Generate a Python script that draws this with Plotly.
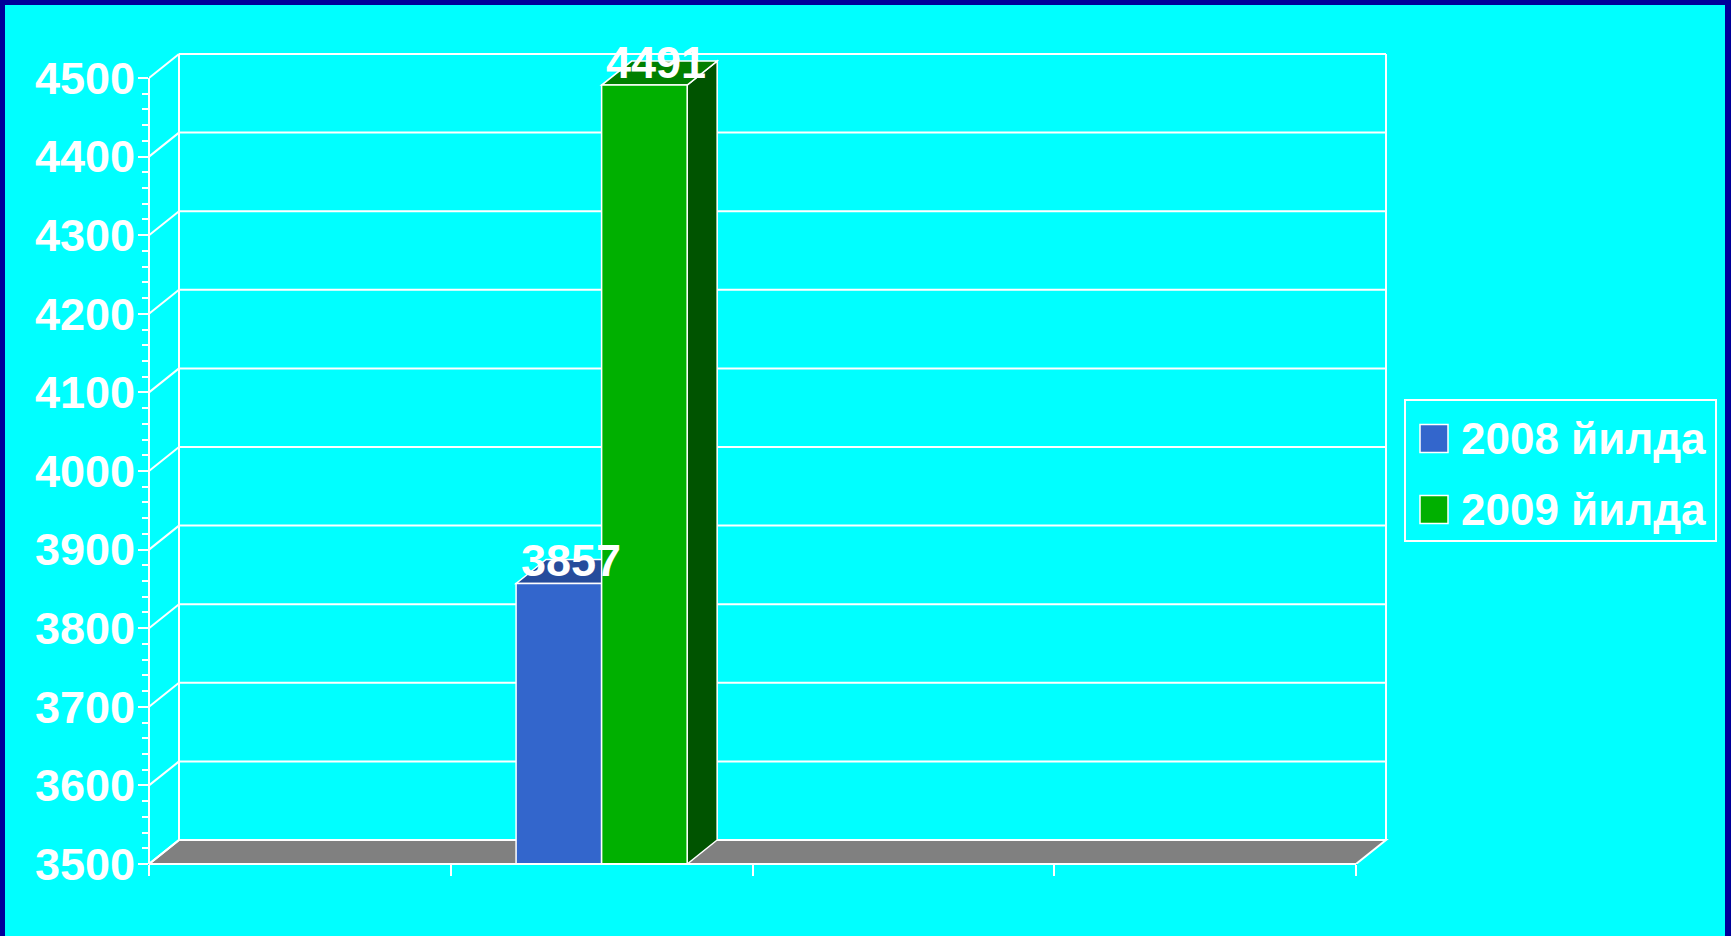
import plotly.graph_objects as go

# ---------------- data ----------------
categories = ["Q1", "Q2", "Q3", "Q4"]
series_names = ["2008 йилда", "2009 йилда"]
values_2008 = [None, 3857, None, None]
values_2009 = [None, 4491, None, None]
y_tick_values = [3500, 3600, 3700, 3800, 3900, 4000, 4100, 4200, 4300, 4400, 4500]
y_tick_labels = ["3500", "3600", "3700", "3800", "3900", "4000", "4100", "4200", "4300", "4400", "4500"]
y_minor_step = 20

# ---------------- styling / geometry ----------------
W, H = 1731, 936
FONT = "Liberation Sans, Arial, Helvetica, sans-serif"
CYAN = "#00FFFF"
BORDER = "#000099"
WHITE = "#FFFFFF"
front_colors = ["#3366CC", "#00B000"]
top_colors = ["#264C9C", "#008000"]
side_colors = ["#1E3D7F", "#005400"]
FLOOR = "#808080"

left_px, front_right_px, plot_right_px = 149, 1356, 1396
bottom_px, top_val_px, plot_top_px = 864, 78, 44
depth_dx_px, depth_dy_px = 30, 24
bargap = 0.433

n_cat = len(categories)
cat_px = (front_right_px - left_px) / n_cat
unit_px = (bottom_px - top_val_px) / (y_tick_values[-1] - y_tick_values[0])
y0 = y_tick_values[0]
x_range = [-0.5, -0.5 + (plot_right_px - left_px) / cat_px]
y_range = [y0, y0 + (bottom_px - plot_top_px) / unit_px]
dxc = depth_dx_px / cat_px
dyv = depth_dy_px / unit_px
x_lo, x_hi = -0.5, n_cat - 0.5

plot_w = plot_right_px - left_px
plot_h = bottom_px - plot_top_px


def pxx(p):
    return (p - left_px) / plot_w


def pxy(p):
    return (bottom_px - p) / plot_h


fig = go.Figure()
series = [values_2008, values_2009]
for name, vals, col in zip(series_names, series, front_colors):
    fig.add_trace(go.Bar(
        x=categories, y=vals, name=name,
        marker=dict(color=col, line=dict(color=WHITE, width=1.5)),
        showlegend=False,
    ))

shapes = []
# outer frame
shapes.append(dict(type="rect", xref="paper", yref="paper", layer="below",
                   x0=pxx(5), x1=pxx(1725), y0=pxy(960), y1=pxy(5),
                   fillcolor=CYAN, line=dict(width=0)))
# floor
shapes.append(dict(type="path", xref="x", yref="y", layer="below",
                   path=f"M {x_lo},{y0} L {x_hi},{y0} L {x_hi + dxc},{y0 + dyv} L {x_lo + dxc},{y0 + dyv} Z",
                   fillcolor=FLOOR, line=dict(color=WHITE, width=2)))
# back wall + side wall grid
for t in y_tick_values:
    shapes.append(dict(type="line", xref="x", yref="y", layer="below",
                       x0=x_lo, y0=t, x1=x_lo + dxc, y1=t + dyv,
                       line=dict(color=WHITE, width=2)))
    shapes.append(dict(type="line", xref="x", yref="y", layer="below",
                       x0=x_lo + dxc, y0=t + dyv, x1=x_hi + dxc, y1=t + dyv,
                       line=dict(color=WHITE, width=2)))
for xe in (x_lo + dxc, x_hi + dxc):
    shapes.append(dict(type="line", xref="x", yref="y", layer="below",
                       x0=xe, y0=y0 + dyv, x1=xe, y1=y_tick_values[-1] + dyv,
                       line=dict(color=WHITE, width=2)))

# 3D faces of bars
group_w = 1 - bargap
bar_w = group_w / len(series)
annotations = []
for s, vals in enumerate(series):
    for i, v in enumerate(vals):
        if v is None:
            continue
        xl = i - group_w / 2 + s * bar_w
        xr = xl + bar_w
        shapes.append(dict(type="path", xref="x", yref="y", layer="below",
                           path=f"M {xr},{y0} L {xr},{v} L {xr + dxc},{v + dyv} L {xr + dxc},{y0 + dyv} Z",
                           fillcolor=side_colors[s], line=dict(color=WHITE, width=1.5)))
        shapes.append(dict(type="path", xref="x", yref="y", layer="below",
                           path=f"M {xl},{v} L {xr},{v} L {xr + dxc},{v + dyv} L {xl + dxc},{v + dyv} Z",
                           fillcolor=top_colors[s], line=dict(color=WHITE, width=1.5)))
        annotations.append(dict(x=(xl + xr) / 2 + dxc / 2 - 0.01, y=v, xref="x", yref="y",
                                text=str(v), showarrow=False, yanchor="bottom", yshift=-5,
                                font=dict(family=FONT, size=45, color=WHITE, weight="bold")))

# front axis lines
shapes.append(dict(type="line", xref="x", yref="paper", layer="above",
                   x0=x_lo, x1=x_hi, y0=0, y1=0, line=dict(color=WHITE, width=2)))
shapes.append(dict(type="line", xref="paper", yref="y", layer="above",
                   x0=0, x1=0, y0=y_tick_values[0], y1=y_tick_values[-1],
                   line=dict(color=WHITE, width=2)))

# legend (manual, large symbols)
shapes.append(dict(type="rect", xref="paper", yref="paper", layer="above",
                   x0=pxx(1405), x1=pxx(1716), y0=pxy(541), y1=pxy(400),
                   line=dict(color=WHITE, width=2), fillcolor="rgba(0,0,0,0)"))
for k, (name, col) in enumerate(zip(series_names, front_colors)):
    cy = 438.5 + k * 71
    shapes.append(dict(type="rect", xref="paper", yref="paper", layer="above",
                       x0=pxx(1420), x1=pxx(1448), y0=pxy(cy + 14), y1=pxy(cy - 14),
                       fillcolor=col, line=dict(color=WHITE, width=1.5)))
    annotations.append(dict(x=pxx(1459), y=pxy(cy), xref="paper", yref="paper",
                            text=name, showarrow=False, xanchor="left", yanchor="middle",
                            font=dict(family=FONT, size=44, color=WHITE, weight="bold")))

minor_vals = [v for v in range(y_tick_values[0], y_tick_values[-1], y_minor_step)
              if v not in y_tick_values]

fig.update_layout(
    width=W, height=H,
    margin=dict(l=left_px, r=W - plot_right_px, t=plot_top_px, b=H - bottom_px),
    paper_bgcolor=BORDER, plot_bgcolor="rgba(0,0,0,0)",
    barmode="group", bargap=bargap, bargroupgap=0,
    showlegend=False,
    shapes=shapes, annotations=annotations,
    xaxis=dict(range=x_range, showgrid=False, zeroline=False, showline=False,
               showticklabels=False, ticks="outside", tickson="boundaries",
               ticklen=11, tickwidth=2, tickcolor=WHITE, fixedrange=True),
    yaxis=dict(range=y_range, showgrid=False, zeroline=False, showline=False,
               tickmode="array", tickvals=y_tick_values, ticktext=y_tick_labels,
               ticks="outside", ticklen=10, tickwidth=2, tickcolor=WHITE,
               ticklabelstandoff=-6,
               tickfont=dict(family=FONT, size=45, color=WHITE, weight="bold"),
               minor=dict(tickmode="array", tickvals=minor_vals, ticks="outside",
                          ticklen=6, tickwidth=1.5, tickcolor=WHITE),
               fixedrange=True),
)

fig.write_html(
    "out.html",
    config={"displayModeBar": False},
    post_script="document.body.style.margin='0';document.body.style.overflow='hidden';",
)
